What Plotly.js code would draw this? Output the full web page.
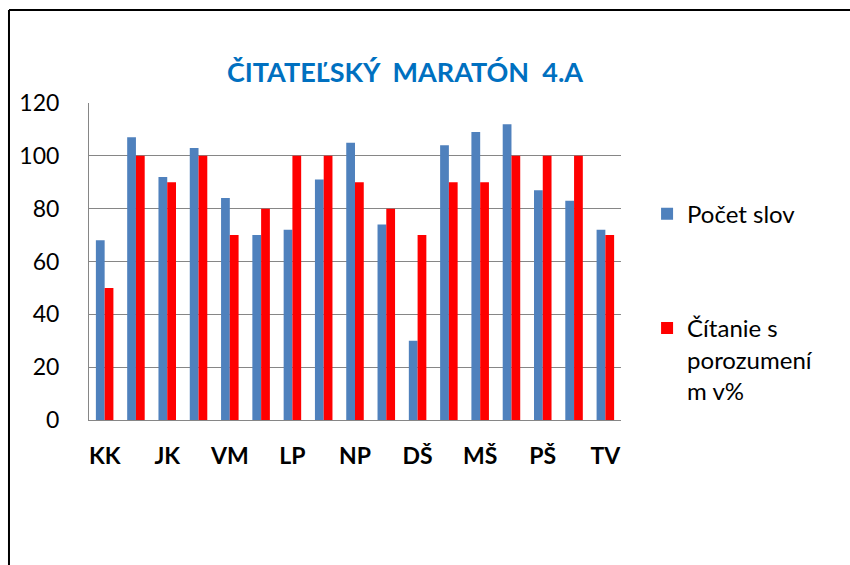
<!DOCTYPE html>
<html>
<head>
<meta charset="utf-8">
<script src="https://cdn.plot.ly/plotly-3.0.1.min.js"></script>
<style>html,body{margin:0;padding:0;background:#fff;}#chart{width:850px;height:565px;}</style>
</head>
<body>
<div id="chart"></div>
<script>
// Shown category labels (every second category is labelled in the original)
var tickLabels = ["KK", "JK", "VM", "LP", "NP", "DŠ", "MŠ", "PŠ", "TV"];
var categoryIndex = [0,1,2,3,4,5,6,7,8,9,10,11,12,13,14,15,16];
var labelIndex = [0,2,4,6,8,10,12,14,16];
var pocetSlov = [68, 107, 92, 103, 84, 70, 72, 91, 105, 74, 30, 104, 109, 112, 87, 83, 72];
var citanie   = [50, 100, 90, 100, 70, 80, 100, 100, 90, 80, 70, 90, 90, 100, 100, 100, 70];
var seriesNames = ["Počet slov", "Čítanie s<br>porozumení<br>m v%"];
var yTicks = [0, 20, 40, 60, 80, 100, 120];

var FONT = "Lato, Carlito, Calibri, sans-serif";

var data = [
  {type: "bar", x: categoryIndex, y: pocetSlov, name: seriesNames[0],
   marker: {color: "#4F81BD"}, legendgroup: "a"},
  {type: "bar", x: categoryIndex, y: citanie, name: seriesNames[1],
   marker: {color: "#FF0000"}, legendgroup: "b"}
];

var layout = {
  width: 850, height: 565,
  margin: {l: 89, r: 229, t: 103, b: 145},
  paper_bgcolor: "#fff", plot_bgcolor: "#fff",
  font: {family: FONT, color: "#000", size: 23},
  title: {text: "ČITATEĽSKÝ  MARATÓN  4.A", font: {family: FONT, size: 27, color: "#0070C0", weight: "bold"},
          xref: "container", yref: "container", x: 0.4765, y: 0.871, xanchor: "center", yanchor: "middle"},
  barmode: "group", bargap: 0.44, bargroupgap: 0,
  xaxis: {range: [-0.5, 16.5], tickmode: "array", tickvals: labelIndex, ticktext: tickLabels,
          showgrid: false, zeroline: false, showline: true, linecolor: "#868686", linewidth: 1,
          ticks: "", tickfont: {family: FONT, size: 23, weight: "bold"}, ticklabelstandoff: 15,
          fixedrange: true},
  yaxis: {range: [0, 120], tickmode: "array", tickvals: yTicks, showgrid: true, gridcolor: "#868686",
          gridwidth: 1, zeroline: false, showline: true, linecolor: "#868686", linewidth: 1,
          ticks: "", tickfont: {family: FONT, size: 23}, ticklabelstandoff: 24, fixedrange: true},
  legend: {x: 1.049, y: 0.72, xanchor: "left", yanchor: "top", traceorder: "grouped",
           tracegroupgap: 80, valign: "top", font: {family: FONT, size: 24},
           bgcolor: "rgba(0,0,0,0)", itemwidth: 30},
  showlegend: true,
  shapes: [
    {type: "line", xref: "paper", yref: "paper", x0: -0.1504, x1: -0.1504, y0: -0.5, y1: 1.2934,
     line: {color: "#000", width: 2}},
    {type: "line", xref: "paper", yref: "paper", x0: -0.1504, x1: 1.5, y0: 1.2934, y1: 1.2934,
     line: {color: "#000", width: 2}}
  ]
};

Plotly.newPlot("chart", data, layout, {displayModeBar: false, staticPlot: true});
</script>
</body>
</html>
